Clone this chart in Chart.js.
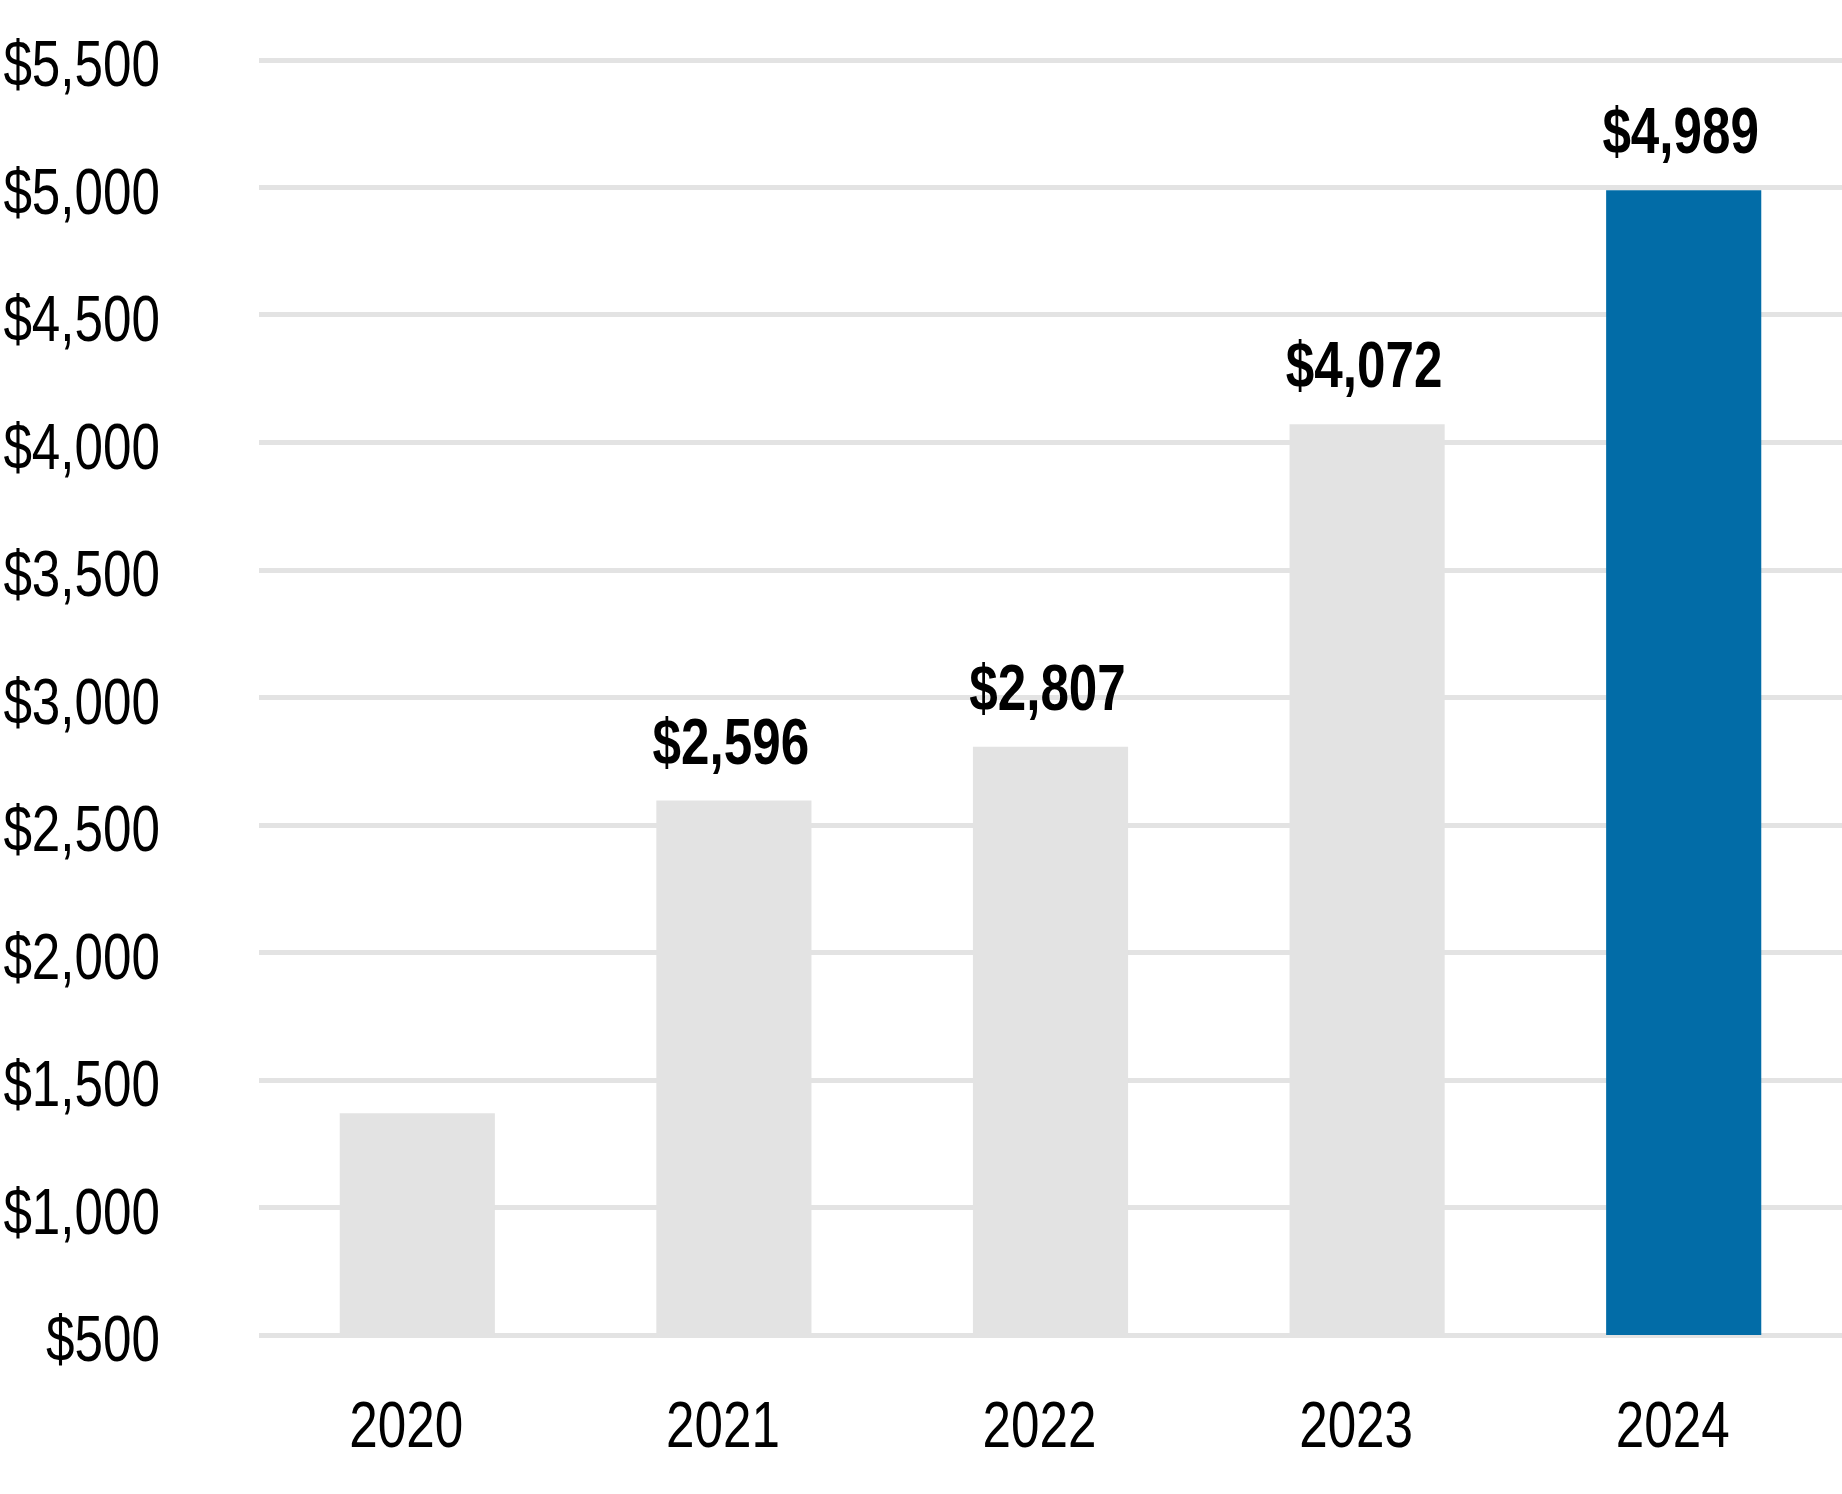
<!DOCTYPE html>
<html>
<head>
<meta charset="utf-8">
<script src="https://cdn.jsdelivr.net/npm/chart.js@4/dist/chart.umd.min.js"></script>
<style>
  body { margin: 0; background: #fff; }
  #wrap { width: 1842px; height: 1494px; }
</style>
</head>
<body>
<div id="wrap"><canvas id="chart" width="1842" height="1494"></canvas></div>
<script>
const years = ['2020', '2021', '2022', '2023', '2024'];
const amounts = [1370, 2596, 2807, 4072, 4989];
const showValue = [false, true, true, true, true];
const barColors = ['#e3e3e3', '#e3e3e3', '#e3e3e3', '#e3e3e3', '#026ca7'];
const yMin = 500;
const yMax = 5500;
const yStep = 500;

// no narrow font installed, so squeeze Liberation Sans sideways
const fontFamily = "'Liberation Sans', Arial, sans-serif";
const squeeze = 0.8;

function formatDollar(num) {
  return '$' + num.toLocaleString('en-US');
}

function narrowText(ctx, text, x, y) {
  ctx.save();
  ctx.translate(x, y);
  ctx.scale(squeeze, 1);
  ctx.fillText(text, 0, 0);
  ctx.restore();
}

// axis labels and bold values above bars
const labelsPlugin = {
  id: 'labelsPlugin',
  afterDraw(chart) {
    const ctx = chart.ctx;
    const yScale = chart.scales.y;
    const xScale = chart.scales.x;
    ctx.save();
    ctx.fillStyle = '#000';
    ctx.textBaseline = 'alphabetic';

    ctx.font = '64px ' + fontFamily;
    ctx.textAlign = 'right';
    yScale.ticks.forEach(t => {
      narrowText(ctx, formatDollar(t.value), 160, yScale.getPixelForValue(t.value) + 26);
    });

    ctx.textAlign = 'center';
    years.forEach((yr, i) => {
      narrowText(ctx, yr, xScale.getPixelForValue(i) - 11, 1447);
    });

    ctx.font = 'bold 64px ' + fontFamily;
    const meta = chart.getDatasetMeta(0);
    meta.data.forEach((bar, i) => {
      if (!showValue[i]) return;
      narrowText(ctx, formatDollar(amounts[i]), bar.x - 3, bar.y - 37);
    });
    ctx.restore();
  }
};

new Chart(document.getElementById('chart'), {
  type: 'bar',
  data: {
    labels: years,
    datasets: [{
      data: amounts,
      backgroundColor: barColors,
      borderWidth: 0,
      barPercentage: 0.49,
      categoryPercentage: 1.0
    }]
  },
  options: {
    responsive: false,
    animation: false,
    layout: { padding: { top: 60, right: 0, bottom: 0, left: 0 } },
    plugins: {
      legend: { display: false },
      tooltip: { enabled: false }
    },
    scales: {
      x: {
        grid: { display: false, drawTicks: false },
        border: { display: false },
        ticks: { display: false },
        afterFit(scale) { scale.height = 159; }
      },
      y: {
        min: yMin,
        max: yMax,
        grid: { color: '#e3e3e3', lineWidth: 5, drawTicks: false },
        border: { display: false },
        ticks: { display: false, stepSize: yStep },
        afterFit(scale) { scale.width = 259; }
      }
    }
  },
  plugins: [labelsPlugin]
});
</script>
</body>
</html>
